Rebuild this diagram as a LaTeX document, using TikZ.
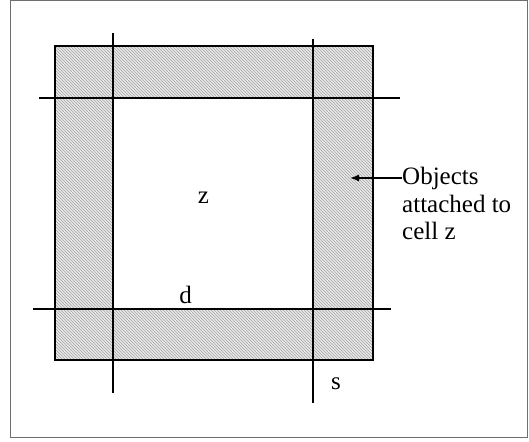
\documentclass[tikz,border=0pt]{standalone}
\usepackage{xcolor}
\usepackage{tikz}
\usepackage{fontspec}
\setmainfont{Liberation Serif}
\usetikzlibrary{patterns,arrows.meta}
\definecolor{FrameGray}{RGB}{110,110,110}
\definecolor{HatchGray}{RGB}{165,165,165}
\definecolor{ShadeGray}{RGB}{232,232,232}

\begin{document}
\begin{tikzpicture}[x=1pt,y=-1pt,
    framebox/.style={draw=FrameGray,line width=1.5pt},
    gridline/.style={draw=black,line width=1.2pt},
    hatched/.style={fill=ShadeGray,postaction={pattern=north west lines,pattern color=HatchGray}},
    lbl/.style={inner sep=0pt,font=\fontsize{25}{27.5}\selectfont}]
  \useasboundingbox (0,0) rectangle (529,441);
  \draw[framebox] (10.5,0.75) rectangle (527.5,437.5);
  % shaded ring round cell z
  \path[hatched,even odd rule] (55,46) rectangle (373,360) (113,98) rectangle (313,309);
  \draw[gridline] (55,46) rectangle (373,360);
  \draw[gridline] (113,33) -- (113,393);
  \draw[gridline] (313,39) -- (313,403);
  \draw[gridline] (39,98) -- (400,98);
  \draw[gridline] (33,309) -- (391,309);
  % labels
  \node[lbl,anchor=base] (cellz) at (203.5,203) {z};
  \node[lbl,anchor=base] (dlbl) at (185.5,303) {d};
  \node[lbl,anchor=base] (slbl) at (336,389) {s};
  \node[lbl,anchor=north west,align=left] (objlabel) at (402,167)
    {Objects\\attached to\\cell z};
  \coordinate (attach) at (350,178);
  \draw[-{Latex[length=9pt,width=7pt]},line width=1.4pt] (objlabel.north west |- attach) -- (attach);
\end{tikzpicture}
\end{document}
